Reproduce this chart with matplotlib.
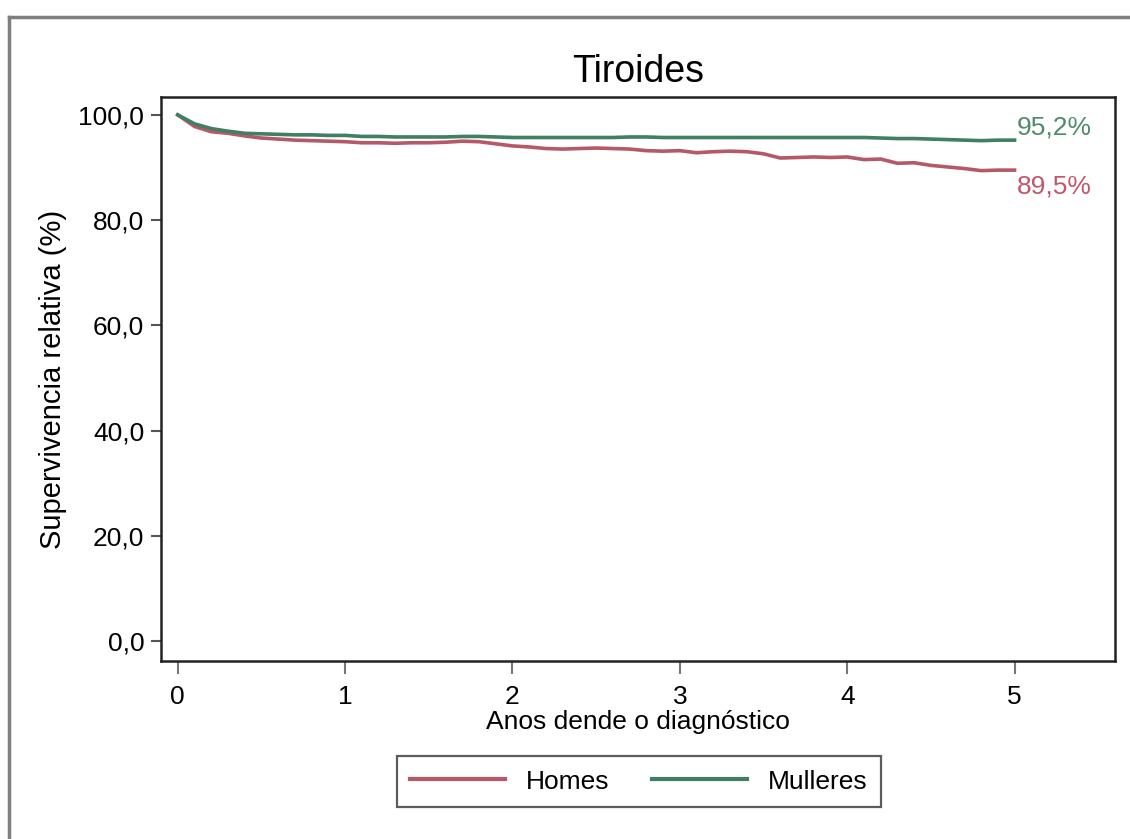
import matplotlib
matplotlib.use("Agg")
import matplotlib.pyplot as plt
from matplotlib.lines import Line2D

plt.rcParams['font.family'] = ['Liberation Sans', 'DejaVu Sans']

# anos dende o diagnóstico (pasos de 0,1 anos)
anos = [round(i * 0.1, 1) for i in range(51)]

homes = [100.0, 97.8, 96.8, 96.5, 96.0, 95.6, 95.4, 95.2, 95.1, 95.0,
         94.9, 94.7, 94.7, 94.6, 94.7, 94.7, 94.8, 95.0, 94.9, 94.5,
         94.1, 93.9, 93.6, 93.5, 93.6, 93.7, 93.6, 93.5, 93.2, 93.1,
         93.2, 92.8, 93.0, 93.1, 93.0, 92.6, 91.8, 91.9, 92.0, 91.9,
         92.0, 91.5, 91.6, 90.8, 90.9, 90.4, 90.1, 89.8, 89.4, 89.5,
         89.5]

mulleres = [100.0, 98.3, 97.4, 96.9, 96.5, 96.4, 96.3, 96.2, 96.2, 96.1,
            96.1, 95.9, 95.9, 95.8, 95.8, 95.8, 95.8, 95.9, 95.9, 95.8,
            95.7, 95.7, 95.7, 95.7, 95.7, 95.7, 95.7, 95.8, 95.8, 95.7,
            95.7, 95.7, 95.7, 95.7, 95.7, 95.7, 95.7, 95.7, 95.7, 95.7,
            95.7, 95.7, 95.6, 95.5, 95.5, 95.4, 95.3, 95.2, 95.1, 95.2,
            95.2]

final_labels = ['89,5%', '95,2%']
yticks = [0, 20, 40, 60, 80, 100]
ytick_labels = ['0,0', '20,0', '40,0', '60,0', '80,0', '100,0']
xticks = [0, 1, 2, 3, 4, 5]

red = '#b65868'
green = '#3f7f62'

fig = plt.figure(figsize=(11.3, 8.39), dpi=100)
ax = fig.add_axes([0.1425, 0.2122, 0.8442, 0.6722])

ax.plot(anos, homes, color=red, lw=2.6, label='Homes')
ax.plot(anos, mulleres, color=green, lw=2.6, label='Mulleres')

ax.annotate(final_labels[1], (anos[-1], mulleres[-1]), xytext=(1.5, 9),
            textcoords='offset points', color='#4e8b6c', fontsize=19,
            va='center', ha='left')
ax.annotate(final_labels[0], (anos[-1], homes[-1]), xytext=(1.5, -12),
            textcoords='offset points', color='#c0576a', fontsize=19,
            va='center', ha='left')

ax.set_xlim(-0.1, 5.6)
ax.set_ylim(-3.8, 103.4)
ax.set_yticks(yticks)
ax.set_yticklabels(ytick_labels)
ax.set_xticks(xticks)
ax.tick_params(axis='y', length=7, width=1.5, color='#555555', labelsize=19, pad=5)
ax.tick_params(axis='x', length=9, width=1.5, color='#777777', labelsize=19, pad=8)
for s in ax.spines.values():
    s.set_linewidth(1.8)
    s.set_color('#222222')

ax.set_title('Tiroides', fontsize=27, pad=11)
ax.set_xlabel('Anos dende o diagnóstico', fontsize=19, labelpad=1)
ax.set_ylabel('Supervivencia relativa (%)', fontsize=21, labelpad=8)

leg = fig.legend(loc='center', bbox_to_anchor=(0.5655, 0.0685), ncol=2,
                 fontsize=19, frameon=True, fancybox=False, handlelength=3.6,
                 handletextpad=0.8, columnspacing=1.6, borderpad=0.5)
leg.get_frame().set_edgecolor('#333333')
leg.get_frame().set_linewidth(1.6)
for h in leg.get_lines():
    h.set_linewidth(3)

# marco exterior gris
fig.add_artist(Line2D([9 / 1130, 1.0], [1 - 17 / 839, 1 - 17 / 839],
                      transform=fig.transFigure, color='#7f7f7f', lw=2.5))
fig.add_artist(Line2D([9 / 1130, 9 / 1130], [0.0, 1 - 17 / 839],
                      transform=fig.transFigure, color='#7f7f7f', lw=2.5))

fig.savefig('out.png', dpi=100)
